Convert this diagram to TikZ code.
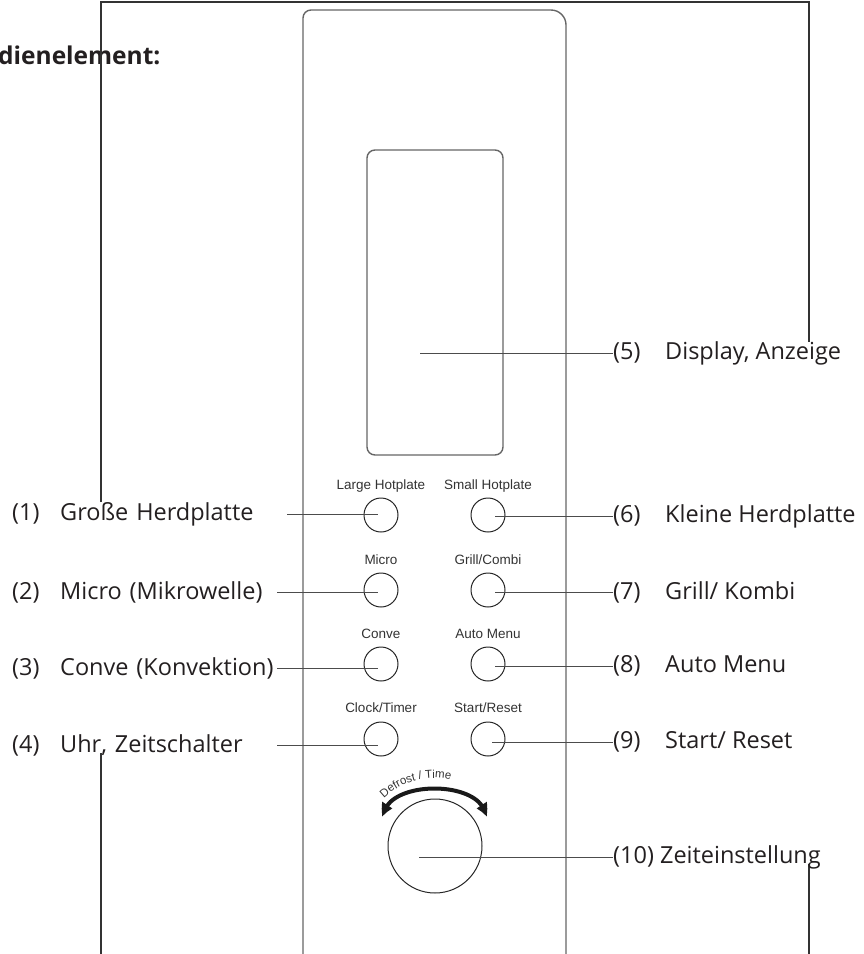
\documentclass[tikz,border=0pt]{standalone}
\usepackage{fontspec}
\setmainfont{Open Sans}
\newfontfamily\arialfont{Liberation Sans}
\usetikzlibrary{decorations.text,arrows.meta,bending}
\definecolor{ink}{HTML}{231F20}
\tikzset{
  turntip/.tip={Triangle[length=13pt,width=11pt,bend]},
}
\begin{document}
\begin{tikzpicture}[x=1pt,y=-1pt,
  frame/.style={line width=1.8pt,draw=black!80},
  panel/.style={line width=1.4pt,draw=black!60},
  conn/.style={line width=0.9pt,draw=black!70},
  btn/.style={circle,draw=black!85,line width=1pt,minimum size=34pt,inner sep=0pt},
  btnlabel/.style={font=\arialfont\fontsize{13.5}{14}\selectfont,text=black!80,inner sep=0pt},
  lbl/.style={font=\fontsize{23.5}{26}\selectfont,text=ink,inner sep=0pt,anchor=west,align=left},
  leftlbl/.style={lbl,text width=265pt},
]
\useasboundingbox (0,0) rectangle (864,954);

% heading (clipped at the left edge)
\node[font=\bfseries\fontsize{24.5}{27}\selectfont,text=ink,anchor=west,inner sep=0pt] (head) at (-2,55) {dienelement:};

% outer frame
\coordinate (fTL) at (101,2);
\coordinate (fTR) at (809,2);
\coordinate (fL1) at (101,502);
\coordinate (fL2) at (101,753);
\coordinate (fLB) at (101,954);
\coordinate (fR1) at (809,342);
\coordinate (fR2) at (809,864);
\coordinate (fRB) at (809,954);
\draw[frame] (fL1) -- (fTL) -- (fTR) -- (fR1);
\draw[frame] (fL2) -- (fLB);
\draw[frame] (fR2) -- (fRB);

% panel
\draw[panel] (303,954) -- (303,18) arc[start angle=180,end angle=90,radius=8pt]
  -- (551,10) arc[start angle=90,end angle=0,radius=15pt] -- (566,954);

% display
\node[draw=black!60,line width=1.4pt,rounded corners=8pt,minimum width=136pt,minimum height=305pt,inner sep=0pt] (disp) at (435,302.5) {};

% buttons
\node[btn] (b1) at (381,515) {};
\node[btn] (b2) at (381,590) {};
\node[btn] (b3) at (381,664) {};
\node[btn] (b4) at (381,739) {};
\node[btn] (b6) at (488,515) {};
\node[btn] (b7) at (488,590) {};
\node[btn] (b8) at (488,664) {};
\node[btn] (b9) at (488,739) {};
\node[btnlabel] (t1) at (381,486) {Large Hotplate};
\node[btnlabel] (t2) at (381,560) {Micro};
\node[btnlabel] (t3) at (381,634) {Conve};
\node[btnlabel] (t4) at (381,708) {Clock/Timer};
\node[btnlabel] (t6) at (488,486) {Small Hotplate};
\node[btnlabel] (t7) at (488,560) {Grill/Combi};
\node[btnlabel] (t8) at (488,634) {Auto Menu};
\node[btnlabel] (t9) at (488,708) {Start/Reset};

% knob
\node[circle,draw=black!85,line width=1pt,minimum size=94pt,inner sep=0pt] (knob) at (435,846) {};
\coordinate (arcL) at (383,817);
\coordinate (arcR) at (486,817);
\coordinate (arcC) at (434,850);
\draw[line width=4pt,black!90,turntip-turntip]
  (arcL) .. controls (385,779) and (484,779) .. (arcR);
\path[decorate,decoration={text along path,text align=left,
  text={|\arialfont\fontsize{11.5}{13}\selectfont\color{black!80}|Defrost / Time}}]
  ([shift={(134:72pt)}]arcC) arc[start angle=134,end angle=40,radius=72pt];

% left labels
\node[leftlbl] (l1) at (12,514) {\makebox[48pt][l]{(1)}Große Herdplatte};
\node[leftlbl] (l2) at (12,592) {\makebox[48pt][l]{(2)}Micro (Mikrowelle)};
\node[leftlbl] (l3) at (12,668) {\makebox[48pt][l]{(3)}Conve (Konvektion)};
\node[leftlbl] (l4) at (12,745) {\makebox[48pt][l]{(4)}Uhr, Zeitschalter};

% right labels
\node[lbl] (r5) at (613,353) {\makebox[52pt][l]{(5)}Display, Anzeige};
\node[lbl] (r6) at (613,516) {\makebox[52pt][l]{(6)}Kleine Herdplatte};
\node[lbl] (r7) at (613,592) {\makebox[52pt][l]{(7)}Grill/ Kombi};
\node[lbl] (r8) at (613,666) {\makebox[52pt][l]{(8)}Auto Menu};
\node[lbl] (r9) at (613,742) {\makebox[52pt][l]{(9)}Start/ Reset};
\node[lbl] (r10) at (613,857) {(10) Zeiteinstellung};

% connectors
\coordinate (dispP) at (420,353);
\coordinate (knobP) at (419,857);
\draw[conn] ([xshift=10pt]l1.east) -- ([xshift=-3pt]b1.center |- l1.east);
\draw[conn] (l2.east) -- ([xshift=-3pt]b2.center |- l2.east);
\draw[conn] (l3.east) -- ([xshift=-3pt]b3.center |- l3.east);
\draw[conn] (l4.east) -- ([xshift=-3pt]b4.center |- l4.east);
\draw[conn] (dispP) -- (r5.west);
\draw[conn] ([xshift=7pt]b6.center |- r6.west) -- (r6.west);
\draw[conn] ([xshift=7pt]b7.center |- r7.west) -- (r7.west);
\draw[conn] ([xshift=7pt]b8.center |- r8.west) -- (r8.west);
\draw[conn] ([xshift=4pt]b9.center |- r9.west) -- (r9.west);
\draw[conn] (knobP) -- (r10.west);
\end{tikzpicture}
\end{document}
